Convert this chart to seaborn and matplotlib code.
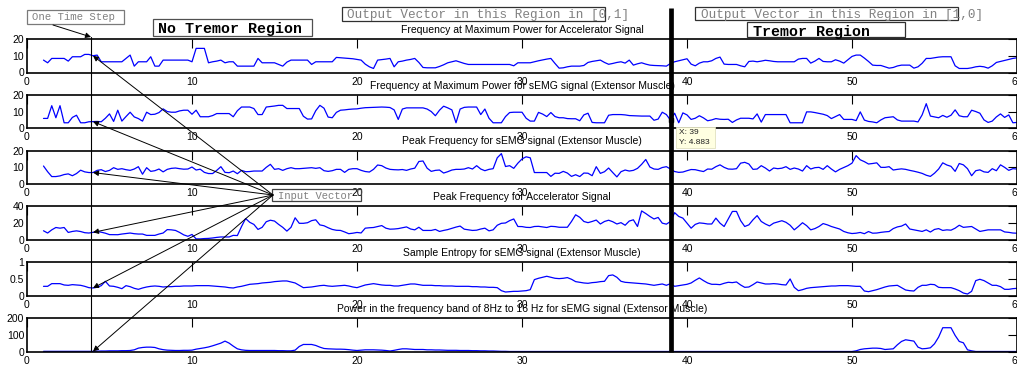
import numpy as np
import pandas as pd
import matplotlib
matplotlib.use("Agg")
import matplotlib.pyplot as plt
from matplotlib.patches import Rectangle
import seaborn as sns

# ---------------- data ----------------
first_sample = 1.0
sample_step = 0.25

titles = [
    "Frequency at Maximum Power for Accelerator Signal",
    "Frequency at Maximum Power for sEMG signal (Extensor Muscle)",
    "Peak Frequency for sEMG signal (Extensor Muscle)",
    "Peak Frequency for Accelerator Signal",
    "Sample Entropy for sEMG signal (Extensor Muscle)",
    "Power in the frequency band of 8Hz to 16 Hz for sEMG signal (Extensor Muscle)",
]

freq_acc = [
    7.4, 5.8, 8.4, 8.4,  8.4, 8.4, 6.8, 9.4,  9.4, 9.4, 10.8, 10.8,  10.0, 10.4, 6.4, 6.4,
    6.4, 6.4, 6.4, 6.4,  8.4, 10.4, 3.8, 6.4,  6.4, 6.4, 9.4, 3.8,  3.8, 7.4, 7.4, 7.4,
    7.4, 7.4, 7.4, 7.4,  6.4, 14.4, 14.4, 14.4,  5.8, 6.4, 6.8, 7.4,  5.8, 6.4, 6.4, 3.8,
    3.8, 3.8, 3.8, 3.8,  8.4, 5.8, 5.8, 5.8,  5.8, 4.8, 3.8, 6.2,  7.4, 7.4, 7.4, 7.4,
    7.4, 4.8, 6.4, 6.4,  6.4, 6.4, 6.4, 9.0,  8.8, 8.6, 8.4, 8.2,  7.8, 7.4, 5.0, 3.4,
    2.4, 7.4, 7.7, 8.0,  8.4, 3.4, 6.4, 6.8,  7.4, 7.8, 8.4, 6.0,  3.0, 2.8, 2.8, 2.8,
    3.6, 4.6, 5.8, 6.4,  7.0, 6.2, 5.4, 4.8,  4.8, 4.8, 4.8, 4.8,  4.8, 4.8, 4.8, 4.8,
    4.8, 4.8, 4.0, 5.8,  5.8, 5.8, 5.8, 6.4,  7.0, 7.5, 8.0, 8.4,  5.4, 2.6, 2.8, 3.4,
    3.8, 3.8, 3.8, 4.2,  6.0, 6.6, 7.0, 7.4,  6.0, 4.9, 5.4, 6.0,  6.4, 5.6, 7.4, 4.4,
    5.2, 5.8, 5.0, 4.4,  4.2, 4.1, 4.0, 3.8,  5.4, 6.4, 7.0, 7.6,  8.2, 5.0, 4.0, 5.6,
    6.4, 6.4, 7.0, 8.4,  9.2, 5.0, 4.8, 4.8,  4.8, 4.0, 3.4, 6.6,  6.8, 6.4, 6.8, 7.3,
    7.0, 6.6, 6.4, 6.4,  6.4, 6.4, 6.4, 8.0,  8.4, 8.4, 5.6, 6.8,  8.4, 6.6, 6.4, 6.4,
    7.6, 6.8, 5.6, 7.6,  9.6, 10.4, 10.4, 8.6,  6.6, 4.4, 4.2, 4.2,  3.4, 2.6, 3.0, 3.9,
    4.4, 4.4, 4.4, 2.6,  3.4, 5.5, 8.4, 8.4,  8.8, 9.2, 9.4, 9.4,  9.4, 4.0, 2.4, 2.4,
    2.4, 2.8, 3.4, 3.7,  3.4, 2.6, 4.0, 6.0,  6.6, 7.2, 7.8, 8.4,  8.8,
]

freq_emg = [
    5.9, 5.9, 13.5, 6.3,  13.5, 3.3, 3.3, 6.5,  7.8, 3.3, 3.3, 3.9,  4.0, 4.1, 3.9, 6.0,
    8.6, 4.1, 10.8, 4.3,  7.0, 9.6, 6.8, 5.8,  4.3, 9.6, 8.2, 8.4,  9.4, 11.6, 10.0, 9.6,
    9.6, 10.4, 10.8, 10.8,  8.4, 10.8, 6.9, 6.9,  6.9, 7.6, 8.8, 8.8,  8.8, 8.8, 6.9, 10.5,
    12.7, 12.7, 12.7, 11.8,  8.2, 8.2, 12.7, 13.0,  13.3, 13.7, 13.7, 11.8,  11.8, 11.8, 11.8, 7.2,
    5.5, 5.6, 10.5, 13.7,  12.0, 6.7, 6.3, 9.5,  10.8, 11.0, 11.3, 11.5,  11.6, 12.0, 12.3, 12.4,
    12.5, 12.6, 12.7, 12.6,  12.4, 11.0, 5.3, 11.5,  12.2, 12.2, 12.2, 12.2,  12.2, 11.5, 10.0, 7.5,
    10.8, 13.2, 12.2, 11.0,  3.3, 11.5, 12.5, 12.7,  12.7, 12.7, 8.2, 11.5,  6.0, 3.3, 3.3, 3.3,
    7.0, 9.4, 9.6, 9.6,  9.6, 6.0, 4.3, 4.3,  9.5, 8.5, 7.0, 9.4,  7.0, 6.3, 6.3, 5.8,
    5.7, 5.7, 4.5, 8.0,  9.0, 3.5, 3.3, 3.3,  3.3, 7.8, 8.2, 8.2,  8.2, 8.0, 7.6, 7.5,
    7.4, 7.3, 7.3, 7.3,  4.8, 5.5, 9.6, 8.2,  4.883, 9.0, 3.3, 9.2,  8.0, 5.3, 6.0, 7.5,
    6.2, 4.5, 5.0, 5.8,  5.4, 5.3, 5.4, 3.5,  5.0, 6.0, 6.0, 6.0,  5.6, 8.6, 3.7, 8.2,
    8.2, 8.2, 8.2, 8.2,  8.2, 3.3, 3.3, 3.3,  3.3, 9.8, 9.8, 9.4,  8.9, 8.4, 7.6, 5.8,
    7.0, 8.2, 5.3, 5.3,  5.3, 4.6, 9.8, 4.9,  4.1, 3.8, 3.3, 5.0,  6.3, 6.6, 6.9, 5.0,
    4.3, 4.3, 4.3, 4.3,  3.8, 8.0, 14.7, 7.3,  6.8, 6.3, 7.7, 6.6,  7.8, 11.0, 7.5, 6.9,
    6.9, 10.8, 10.0, 9.0,  5.0, 3.5, 4.3, 6.8,  8.6, 6.5, 8.0, 3.3,  3.5,
]

peak_emg = [
    10.8, 7.4, 4.5, 4.5,  4.9, 5.7, 6.1, 5.0,  6.3, 8.3, 7.3, 6.9,  6.9, 8.2, 8.6, 7.5,
    8.2, 9.8, 8.8, 9.2,  8.6, 8.2, 9.0, 10.4,  5.9, 9.8, 7.6, 8.0,  9.0, 7.3, 8.8, 9.4,
    9.6, 9.2, 8.9, 9.0,  10.2, 8.4, 8.9, 7.0,  6.3, 6.3, 8.2, 10.4,  7.0, 6.8, 7.8, 6.2,
    8.2, 7.4, 7.5, 7.8,  7.8, 7.8, 10.0, 11.8,  8.8, 9.2, 8.2, 9.2,  9.8, 9.2, 9.2, 9.4,
    9.6, 9.8, 9.4, 9.8,  8.0, 7.6, 8.0, 8.8,  8.8, 7.0, 8.8, 9.2,  9.2, 8.2, 7.5, 7.2,
    8.8, 11.4, 11.0, 9.6,  8.8, 8.6, 8.5, 8.7,  8.2, 9.0, 9.5, 13.5,  13.8, 9.5, 7.6, 8.2,
    8.4, 6.6, 7.4, 8.4,  8.8, 8.8, 9.0, 9.8,  9.0, 11.0, 9.0, 8.0,  8.8, 9.2, 15.7, 18.2,
    10.5, 11.0, 9.4, 12.5,  15.0, 16.3, 15.7, 6.9,  6.9, 6.9, 6.9, 4.6,  6.5, 6.4, 7.6, 6.6,
    4.6, 5.6, 4.5, 6.6,  6.5, 5.0, 10.4, 6.4,  7.4, 9.6, 6.9, 4.3,  7.4, 8.4, 7.8, 8.2,
    9.4, 11.8, 14.7, 10.2,  9.0, 8.8, 9.9, 10.4,  9.0, 7.5, 7.0, 7.2,  8.0, 8.7, 8.6, 8.0,
    7.5, 9.0, 8.9, 10.4,  11.5, 10.0, 9.0, 8.9,  9.2, 12.5, 13.0, 12.0,  8.8, 9.0, 11.0, 9.6,
    7.8, 9.6, 9.2, 9.5,  10.4, 8.8, 9.6, 9.0,  7.8, 11.0, 9.0, 9.8,  10.0, 8.8, 11.0, 9.0,
    7.3, 8.8, 9.9, 11.0,  12.5, 17.0, 14.5, 13.4,  12.0, 12.3, 12.7, 10.0,  10.0, 10.4, 8.4, 8.8,
    9.1, 8.8, 8.2, 7.7,  7.1, 6.4, 5.3, 4.6,  6.5, 9.0, 12.7, 11.4,  10.6, 7.6, 12.3, 11.5,
    9.2, 5.0, 8.0, 8.5,  7.3, 7.0, 9.2, 8.0,  11.5, 10.0, 8.2, 9.2,  9.0,
]

peak_acc = [
    10.9, 8.2, 12.0, 14.8,  14.0, 14.8, 8.9, 10.1,  10.8, 10.0, 8.6, 8.2,  9.0, 10.1, 9.2, 8.0,
    6.3, 6.2, 6.2, 7.0,  7.6, 8.2, 7.4, 7.0,  7.0, 5.4, 5.4, 5.4,  7.0, 8.2, 12.3, 12.0,
    11.3, 8.9, 6.0, 4.3,  6.5, 1.2, 1.2, 1.6,  1.8, 2.3, 3.0, 3.5,  3.5, 3.5, 5.4, 5.2,
    15.9, 25.5, 21.0, 18.5,  12.5, 15.0, 21.7, 23.5,  22.5, 18.5, 15.0, 10.5,  15.0, 26.4, 19.8, 19.8,
    20.5, 23.0, 24.0, 17.9,  16.9, 14.5, 12.5, 11.5,  11.3, 9.5, 7.4, 8.0,  8.9, 8.3, 14.0, 14.5,
    14.8, 16.0, 17.1, 14.0,  12.8, 13.0, 13.5, 14.5,  15.5, 13.0, 12.0, 15.1,  11.3, 11.3, 11.3, 12.5,
    10.1, 11.3, 12.3, 13.8,  15.3, 16.5, 12.8, 12.0,  11.3, 11.6, 13.0, 14.0,  10.8, 12.0, 17.5, 19.8,
    20.2, 23.0, 25.0, 16.0,  15.9, 15.0, 14.8, 16.0,  16.2, 15.5, 14.8, 16.2,  15.9, 15.1, 15.1, 15.1,
    22.0, 30.0, 27.0, 22.0,  20.6, 22.0, 23.7, 19.0,  22.0, 23.5, 21.7, 19.0,  20.6, 17.5, 22.5, 24.0,
    16.0, 34.6, 31.5, 28.0,  25.0, 26.8, 20.0, 18.8,  22.0, 32.5, 28.0, 26.0,  20.0, 14.0, 18.5, 20.3,
    19.8, 19.0, 19.0, 26.0,  20.0, 16.0, 25.0, 34.0,  34.0, 23.0, 16.0, 18.0,  24.0, 29.0, 22.0, 19.0,
    16.7, 20.0, 21.5, 22.9,  21.0, 17.5, 12.0, 16.0,  20.5, 17.0, 12.0, 13.5,  16.0, 19.5, 18.0, 16.0,
    14.5, 13.0, 10.1, 8.5,  7.6, 8.0, 8.9, 7.4,  10.0, 8.0, 8.2, 9.0,  9.6, 10.0, 13.5, 15.5,
    16.5, 19.0, 13.0, 12.0,  11.0, 10.1, 12.0, 9.4,  12.5, 13.5, 11.3, 12.0,  11.6, 14.0, 17.5, 15.0,
    15.5, 16.0, 13.0, 10.1,  11.0, 12.0, 12.0, 12.0,  12.0, 9.5, 9.0, 8.2,  8.0,
]

entropy_emg = [
    0.28, 0.28, 0.36, 0.36,  0.36, 0.32, 0.31, 0.33,  0.32, 0.31, 0.28, 0.24,  0.23, 0.25, 0.30, 0.43,
    0.29, 0.28, 0.25, 0.21,  0.30, 0.27, 0.22, 0.19,  0.23, 0.26, 0.28, 0.29,  0.28, 0.26, 0.27, 0.27,
    0.28, 0.28, 0.29, 0.29,  0.29, 0.30, 0.30, 0.30,  0.30, 0.29, 0.28, 0.27,  0.26, 0.24, 0.23, 0.26,
    0.28, 0.31, 0.34, 0.35,  0.36, 0.38, 0.39, 0.40,  0.42, 0.43, 0.44, 0.44,  0.41, 0.38, 0.31, 0.24,
    0.25, 0.26, 0.28, 0.30,  0.31, 0.29, 0.28, 0.29,  0.30, 0.31, 0.29, 0.26,  0.24, 0.28, 0.32, 0.34,
    0.36, 0.34, 0.32, 0.31,  0.31, 0.29, 0.29, 0.31,  0.33, 0.35, 0.35, 0.33,  0.31, 0.31, 0.31, 0.30,
    0.30, 0.29, 0.29, 0.29,  0.28, 0.28, 0.28, 0.28,  0.27, 0.27, 0.26, 0.26,  0.25, 0.25, 0.24, 0.15,
    0.11, 0.12, 0.13, 0.13,  0.14, 0.15, 0.18, 0.48,  0.52, 0.55, 0.58, 0.55,  0.52, 0.51, 0.52, 0.54,
    0.49, 0.42, 0.40, 0.38,  0.37, 0.39, 0.40, 0.42,  0.43, 0.60, 0.62, 0.55,  0.43, 0.40, 0.39, 0.38,
    0.37, 0.36, 0.35, 0.33,  0.31, 0.33, 0.35, 0.31,  0.36, 0.28, 0.30, 0.32,  0.34, 0.38, 0.46, 0.53,
    0.45, 0.38, 0.34, 0.34,  0.33, 0.37, 0.40, 0.39,  0.41, 0.32, 0.25, 0.26,  0.33, 0.41, 0.38, 0.35,
    0.35, 0.36, 0.35, 0.33,  0.32, 0.50, 0.25, 0.15,  0.18, 0.22, 0.24, 0.25,  0.26, 0.27, 0.28, 0.29,
    0.29, 0.30, 0.30, 0.30,  0.29, 0.28, 0.28, 0.14,  0.12, 0.15, 0.18, 0.22,  0.26, 0.29, 0.30, 0.31,
    0.24, 0.17, 0.15, 0.14,  0.25, 0.31, 0.31, 0.34,  0.33, 0.25, 0.24, 0.24,  0.24, 0.20, 0.15, 0.08,
    0.05, 0.13, 0.45, 0.49,  0.45, 0.38, 0.31, 0.31,  0.27, 0.19, 0.19, 0.21,  0.22,
]

band_power_emg = [
    1, 1, 1, 1,  1, 1, 1, 1,  1, 1, 1, 1,  1, 2, 3, 3,
    4, 4, 4, 5,  5, 6, 10, 20,  24, 26, 26, 24,  16, 11, 8, 7,
    6, 6, 7, 7,  8, 14, 18, 22,  27, 34, 42, 50,  62, 50, 32, 16,
    10, 7, 6, 6,  6, 6, 6, 6,  6, 5, 5, 4,  4, 8, 30, 42,
    42, 42, 36, 26,  18, 16, 15, 14,  14, 13, 11, 8,  6, 8, 10, 10,
    10, 9, 8, 6,  3, 7, 12, 16,  16, 14, 12, 12,  12, 10, 10, 9,
    9, 8, 7, 7,  7, 6, 6, 6,  5, 5, 4, 4,  3, 3, 2, 1,
    1, 0, 0, 0,  0, 0, 0, 0,  0, 0, 0, 0,  0, 0, 0, 0,
    0, 0, 0, 0,  0, 0, 0, 0,  0, 0, 0, 0,  0, 0, 0, 0,
    0, 0, 0, 0,  0, 0, 0, 0,  0, 0, 0, 0,  0, 0, 0, 0,
    0, 0, 0, 0,  0, 0, 0, 0,  0, 0, 0, 0,  0, 0, 0, 0,
    0, 0, 0, 0,  0, 0, 0, 0,  0, 0, 0, 0,  0, 0, 0, 0,
    0, 0, 0, 0,  0, 4, 12, 16,  18, 20, 20, 18,  12, 14, 16, 40,
    60, 70, 66, 62,  26, 16, 18, 22,  46, 86, 142, 142,  142, 96, 60, 52,
    10, 4, 0, 0,  0, 0, 0, 0,  0, 0, 0, 0,  0,
]

series = [freq_acc, freq_emg, peak_emg, peak_acc, entropy_emg, band_power_emg]
y_limits = [(0, 20), (0, 20), (0, 20), (0, 40), (0, 1), (0, 200)]
y_ticks = [[0, 10, 20], [0, 10, 20], [0, 10, 20], [0, 20, 40], [0, 0.5, 1], [0, 100, 200]]
y_ticklabels = [["0", "10", "20"], ["0", "10", "20"], ["0", "10", "20"],
                ["0", "20", "40"], ["0", "0.5", "1"], ["0", "100", "200"]]
x_limits = (0, 60)
x_ticks = [0, 10, 20, 30, 40, 50, 60]

boundary_x = 39          # no tremor / tremor boundary
time_step_x = 3.88       # "one time step" marker
input_x = 4              # sample the input vector arrows point at
datatip_x, datatip_y = 39, 4.883

# ---------------- style ----------------
sns.set_style("white")
plt.rcParams["font.family"] = ["Liberation Sans", "DejaVu Sans"]
plt.rcParams["axes.linewidth"] = 1.2

W, H = 1017, 367
fig = plt.figure(figsize=(W / 100, H / 100), dpi=100)

left_px, right_px = 27, 1017
tops = [39, 94.8, 150.6, 206.4, 262.2, 318]
ax_h = 33.5

axes = []
for i, vals in enumerate(series):
    t = first_sample + sample_step * np.arange(len(vals))
    df = pd.DataFrame({"t": t, "v": vals})
    ax = fig.add_axes([left_px / W, 1 - (tops[i] + ax_h) / H,
                       (right_px - left_px) / W, ax_h / H])
    sns.lineplot(data=df, x="t", y="v", ax=ax, color="#0000FF",
                 linewidth=0.9, legend=False)
    ax.set_xlim(*x_limits)
    ax.set_ylim(*y_limits[i])
    ax.set_xticks(x_ticks)
    ax.set_xticklabels([str(v) for v in x_ticks])
    ax.set_yticks(y_ticks[i])
    ax.set_yticklabels(y_ticklabels[i])
    ax.set_xlabel("")
    ax.set_ylabel("")
    ax.tick_params(axis="both", direction="in", length=6.5, width=0.8,
                   top=True, right=True, labelsize=7.5, colors="black")
    ax.tick_params(axis="x", pad=3)
    ax.tick_params(axis="y", pad=2)
    for sp in ax.spines.values():
        sp.set_color("black")
        sp.set_linewidth(1.2)
    ax.set_title(titles[i], fontsize=7.5, pad=4.5, color="black")
    axes.append(ax)

# datatip marker
axes[1].plot([datatip_x], [datatip_y], marker="s", ms=3.5, color="black",
             linestyle="none", zorder=5)

# ---------------- annotation overlay (pixel coordinates, top-left origin) ----------------
ov = fig.add_axes([0, 0, 1, 1], zorder=10)
ov.set_xlim(0, W)
ov.set_ylim(H, 0)
ov.set_axis_off()

bx = axes[0].transData.transform((boundary_x, 0))[0]
ov.plot([bx, bx], [8, 352], color="black", linewidth=3.4, solid_capstyle="butt")
tx = axes[0].transData.transform((time_step_x, 0))[0]
ov.plot([tx, tx], [37, 351], color="black", linewidth=0.8)

mono = ["Liberation Mono", "DejaVu Sans Mono"]


def box(x0, y0, x1, y1, ec="#404040", lw=0.9):
    ov.add_patch(Rectangle((x0, y0), x1 - x0, y1 - y0, fill=False,
                           edgecolor=ec, linewidth=lw))


# One Time Step
box(27, 10, 124, 24, ec="#7a7a7a")
ov.text(32, 17.5, "One Time Step", family=mono, fontsize=7.7, color="#808080",
        ha="left", va="center")
ov.annotate("", xy=(tx, 37), xytext=(53, 25),
            arrowprops=dict(arrowstyle="-|>", color="black", lw=0.7,
                            mutation_scale=8, shrinkA=0, shrinkB=0))

# No Tremor Region
box(153, 19, 312, 36, ec="#505050")
ov.text(158, 29, "No Tremor Region", family=mono, fontsize=10.8,
        fontweight="bold", color="black", ha="left", va="center")

# Output vector boxes
box(342, 7, 605, 21, ec="#303030")
ov.text(347, 15, "Output Vector in this Region in [0,1]", family=mono,
        fontsize=9.1, color="#808080", ha="left", va="center")
box(695, 7, 958, 20, ec="#303030")
ov.text(701, 15, "Output Vector in this Region in [1,0]", family=mono,
        fontsize=9.1, color="#808080", ha="left", va="center")

# Tremor Region
box(747, 22, 905, 37, ec="#303030")
ov.text(753, 32, "Tremor Region", family=mono, fontsize=10.8,
        fontweight="bold", color="black", ha="left", va="center")

# Input Vector
box(272, 189, 361, 201, ec="#404040")
ov.text(278, 196, "Input Vector", family=mono, fontsize=7.6, color="#808080",
        ha="left", va="center")
src = (273, 195)
for i, vals in enumerate(series):
    idx = int(round((input_x - first_sample) / sample_step))
    ov.annotate("", xy=(input_x, vals[idx]), xycoords=axes[i].transData,
                xytext=src, textcoords="data",
                arrowprops=dict(arrowstyle="-|>", color="black", lw=0.7,
                                mutation_scale=8, shrinkA=0, shrinkB=0))

# Datatip
ov.add_patch(Rectangle((676, 127), 39, 21, facecolor="#FFFFE1",
                       edgecolor="#E0E0C0", linewidth=0.6))
ov.text(679, 133, "X: 39", fontsize=6, color="#202020", ha="left", va="center")
ov.text(679, 142, "Y: %.3f" % datatip_y, fontsize=6, color="#202020",
        ha="left", va="center")

fig.savefig("out.png", dpi=100)
